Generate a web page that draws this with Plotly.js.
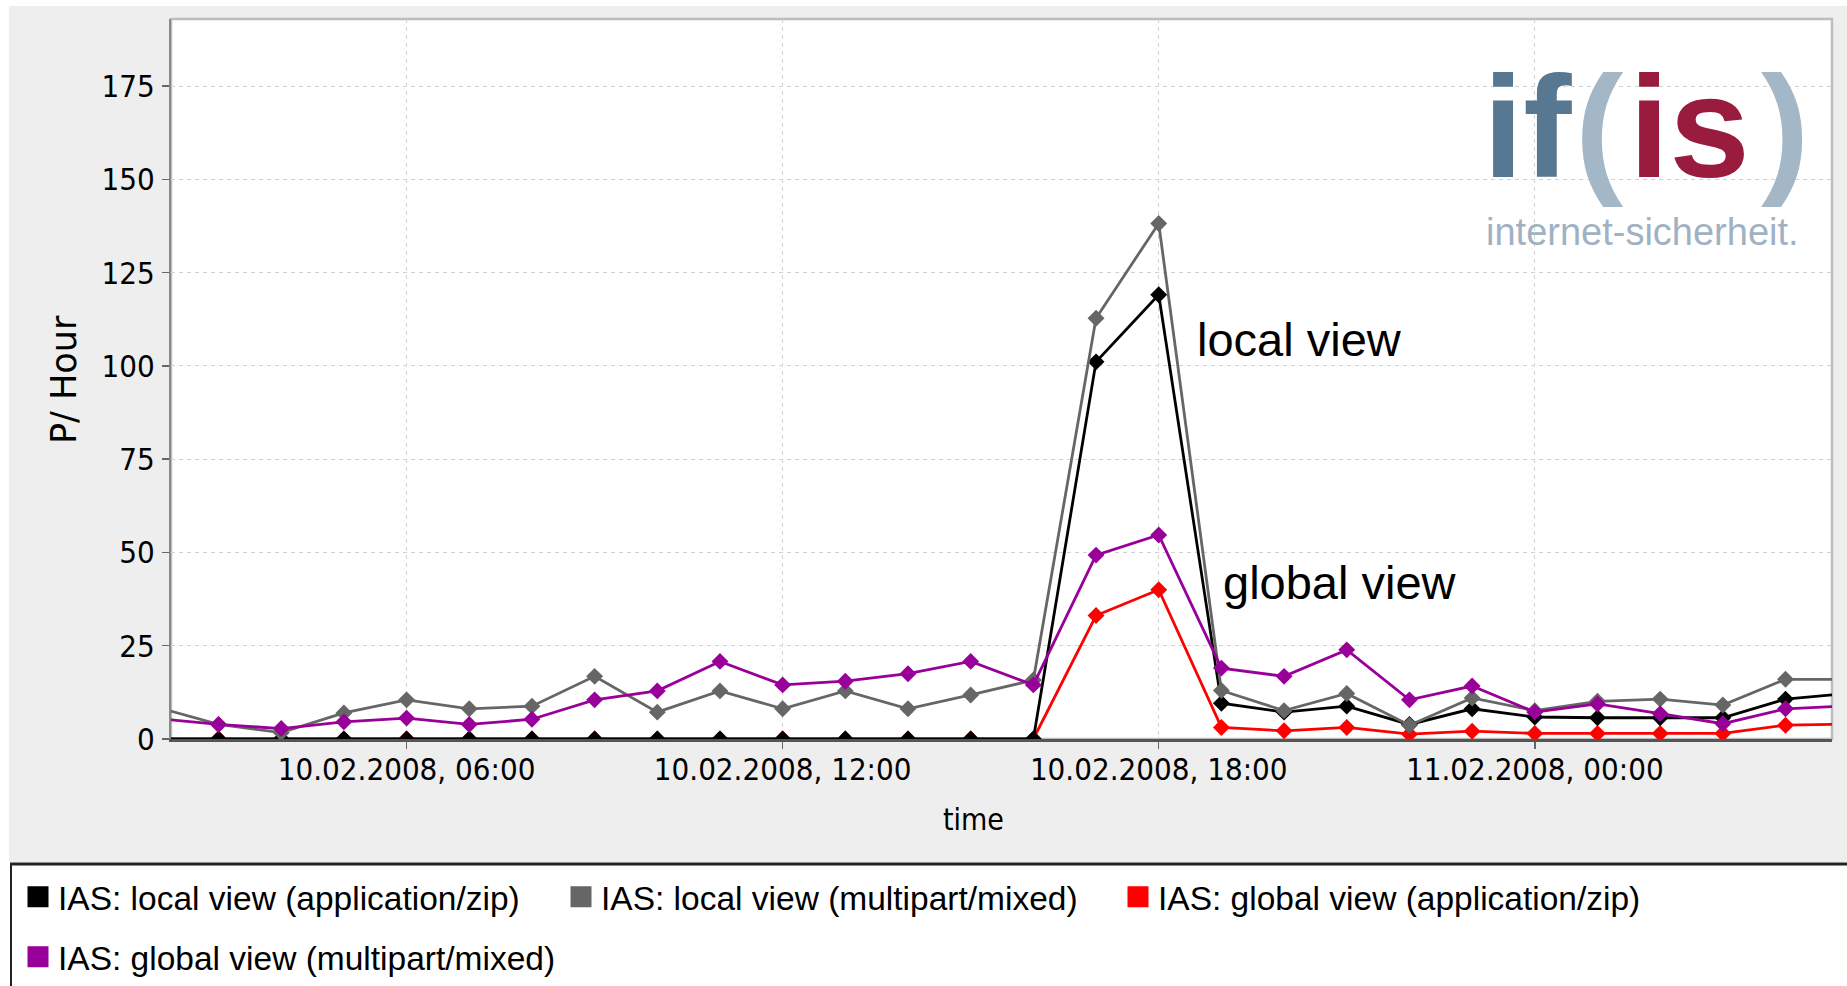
<!DOCTYPE html>
<html>
<head>
<meta charset="utf-8">
<script src="https://cdn.plot.ly/plotly-3.0.1.min.js"></script>
<style>
  html, body { margin: 0; padding: 0; background: #ffffff; overflow: hidden; }
  #chart { width: 1847px; height: 986px; }
</style>
</head>
<body>
<div id="chart"></div>
<script>
// ---- data (hourly) ----
const times = [
  '2008-02-10 02:00','2008-02-10 03:00','2008-02-10 04:00','2008-02-10 05:00',
  '2008-02-10 06:00','2008-02-10 07:00','2008-02-10 08:00','2008-02-10 09:00',
  '2008-02-10 10:00','2008-02-10 11:00','2008-02-10 12:00','2008-02-10 13:00',
  '2008-02-10 14:00','2008-02-10 15:00','2008-02-10 16:00','2008-02-10 17:00',
  '2008-02-10 18:00','2008-02-10 19:00','2008-02-10 20:00','2008-02-10 21:00',
  '2008-02-10 22:00','2008-02-10 23:00','2008-02-11 00:00','2008-02-11 01:00',
  '2008-02-11 02:00','2008-02-11 03:00','2008-02-11 04:00','2008-02-11 05:00'
];
const localZip = [0,0,0,0,0,0,0,0,0,0,0,0,0,0,0,101.1,119.1,9.6,7.2,8.8,3.9,8.1,5.9,5.7,5.7,5.7,10.7,12.2];
const localMultipart = [8.6,3.9,1.7,7.0,10.5,8.1,8.8,16.8,7.2,12.9,8.1,12.9,8.1,11.8,15.8,112.8,138.2,13.0,7.6,12.2,3.7,11.0,7.6,10.1,10.7,9.1,16.0,16.0];
const globalZip = [0,0,0,0,0,0,0,0,0,0,0,0,0,0,0,33.1,40.0,3.1,2.2,3.1,1.3,2.1,1.5,1.5,1.5,1.5,3.7,4.0];
const globalMultipart = [5.5,3.9,2.8,4.6,5.6,3.9,5.3,10.5,12.9,20.8,14.5,15.5,17.5,20.8,14.5,49.3,54.7,19.0,16.8,23.9,10.5,14.2,7.2,9.4,6.8,4.1,8.1,8.9];

const seriesNames = [
  'IAS: local view (application/zip)',
  'IAS: local view (multipart/mixed)',
  'IAS: global view (application/zip)',
  'IAS: global view (multipart/mixed)'
];
const seriesColors = ['#000000', '#666666', '#ff0000', '#990099'];

const xTickVals = ['2008-02-10 06:00','2008-02-10 12:00','2008-02-10 18:00','2008-02-11 00:00'];
const xTickText = ['10.02.2008, 06:00','10.02.2008, 12:00','10.02.2008, 18:00','11.02.2008, 00:00'];
const yTickVals = [0,25,50,75,100,125,150,175];
const yTickText = ['0','25','50','75','100','125','150','175'];
const xTitle = 'time';
const yTitle = 'P/ Hour';
const logoParts = ['if', '(', 'is', ')'];
const logoColors = ['#587892', '#a4b7c6', '#991c3f', '#a4b7c6'];
const logoTagline = 'internet-sicherheit.';

// ---- layout geometry (page pixels) ----
const W = 1847, H = 986;
const L = 171, R = 1832, T = 19, B = 739;
const px = v => (v - L) / (R - L);
const py = v => (B - v) / (B - T);

const tickFamily = '"DejaVu Sans Condensed", "DejaVu Sans", sans-serif';
const textFamily = '"Liberation Sans", Arial, sans-serif';

const allY = [localZip, localMultipart, globalZip, globalMultipart];
const traces = [];
[2, 0, 1, 3].forEach(i => {
  traces.push({
    type: 'scatter', mode: 'lines+markers',
    x: times, y: allY[i], name: seriesNames[i],
    line: { color: seriesColors[i], width: 2.8 },
    marker: { color: seriesColors[i], symbol: 'diamond', size: 13 },
    showlegend: false, cliponaxis: true
  });
});
// legend swatches (square, as in reference)
const legendIds = ['legend', 'legend2', 'legend3', 'legend4'];
seriesNames.forEach((n, i) => {
  traces.push({
    type: 'scatter', mode: 'markers', x: [null], y: [null], name: n,
    marker: { color: seriesColors[i], symbol: 'square', size: 16,
              line: { color: seriesColors[i], width: 5 } },
    legend: legendIds[i], showlegend: true, hoverinfo: 'skip'
  });
});

const legendBase = (x, y) => ({
  x: px(x), y: py(y), xanchor: 'left', yanchor: 'middle',
  orientation: 'h', bgcolor: 'rgba(0,0,0,0)', borderwidth: 0,
  font: { family: textFamily, size: 33.5, color: '#000' },
  itemsizing: 'trace'
});

// logo letters (page-pixel left edges)
const logoX = [1482, 1574, 1628, 1760];
const logoAnn = logoParts.map((t, i) => ({
  xref: 'paper', yref: 'paper', x: px(logoX[i]), y: py(45), xanchor: 'left', yanchor: 'top',
  borderpad: 0, showarrow: false,
  text: '<b>' + t + '</b>',
  font: { family: textFamily, size: 145, color: logoColors[i] }
}));

const layout = {
  width: W, height: H, autosize: false,
  margin: { l: L, r: W - R, t: T, b: H - B, pad: 0, autoexpand: false },
  paper_bgcolor: '#ffffff',
  plot_bgcolor: 'rgba(0,0,0,0)',
  showlegend: true,
  legend: legendBase(18, 897),
  legend2: legendBase(561, 897),
  legend3: legendBase(1118, 897),
  legend4: legendBase(18, 957),
  xaxis: {
    type: 'date',
    range: ['2008-02-10 02:14:30', '2008-02-11 04:44:30'],
    tickmode: 'array', tickvals: xTickVals, ticktext: xTickText,
    showgrid: true, gridcolor: '#d2d2d2', gridwidth: 1, griddash: '4px,4px',
    ticks: 'outside', ticklen: 7, tickwidth: 1.5, tickcolor: '#666',
    showline: true, linecolor: '#555555', linewidth: 3,
    zeroline: false,
    tickfont: { family: tickFamily, size: 31, color: '#000' },
    ticklabelstandoff: -6,
    automargin: false, fixedrange: true
  },
  yaxis: {
    range: [0, 193],
    tickmode: 'array', tickvals: yTickVals, ticktext: yTickText,
    showgrid: true, gridcolor: '#d2d2d2', gridwidth: 1, griddash: '4px,4px',
    ticks: 'outside', ticklen: 7, tickwidth: 1.5, tickcolor: '#666',
    showline: true, linecolor: '#888888', linewidth: 2,
    zeroline: false,
    tickfont: { family: tickFamily, size: 31, color: '#000' },
    ticklabelstandoff: 1,
    automargin: false, fixedrange: true
  },
  shapes: [
    { type: 'rect', xref: 'paper', yref: 'paper', layer: 'below',
      x0: px(9), x1: px(W + 5), y0: py(862), y1: py(6),
      fillcolor: '#eeeeee', line: { width: 0 } },
    { type: 'rect', xref: 'paper', yref: 'paper', layer: 'below',
      x0: 0, x1: 1, y0: 0, y1: 1,
      fillcolor: '#ffffff', line: { color: '#bdbdbd', width: 2.5 } },
    { type: 'rect', xref: 'paper', yref: 'paper', layer: 'below',
      x0: px(11), x1: px(W + 5), y0: py(H + 5), y1: py(864),
      fillcolor: '#ffffff', line: { width: 0 } },
    { type: 'line', xref: 'paper', yref: 'paper', layer: 'above',
      x0: px(10), x1: px(W + 5), y0: py(864), y1: py(864),
      line: { color: '#222222', width: 3 } },
    { type: 'line', xref: 'paper', yref: 'paper', layer: 'above',
      x0: px(11), x1: px(11), y0: py(864), y1: py(H + 5),
      line: { color: '#222222', width: 2 } }
  ],
  annotations: [
    { xref: 'paper', yref: 'paper', x: px(973), y: py(819), xanchor: 'center', yanchor: 'middle',
      text: xTitle, showarrow: false,
      font: { family: tickFamily, size: 30, color: '#000' } },
    { xref: 'paper', yref: 'paper', x: px(64), y: py(379), xanchor: 'center', yanchor: 'middle',
      text: yTitle, showarrow: false, textangle: -90,
      font: { family: '"DejaVu Sans", sans-serif', size: 35, color: '#000' } },
    { xref: 'x', yref: 'y', x: '2008-02-10 18:35', y: 107, xanchor: 'left', yanchor: 'middle',
      text: 'local view', showarrow: false,
      font: { family: textFamily, size: 47, color: '#000' } },
    { xref: 'x', yref: 'y', x: '2008-02-10 19:00', y: 42, xanchor: 'left', yanchor: 'middle',
      text: 'global view', showarrow: false,
      font: { family: textFamily, size: 47, color: '#000' } },
    ...logoAnn,
    { xref: 'paper', yref: 'paper', x: px(1484), y: py(232), xanchor: 'left', yanchor: 'middle',
      text: logoTagline, showarrow: false,
      font: { family: textFamily, size: 38, color: '#9fb2c3' } }
  ],
  hovermode: false
};

Plotly.newPlot('chart', traces, layout, { displayModeBar: false, staticPlot: true });
</script>
</body>
</html>
